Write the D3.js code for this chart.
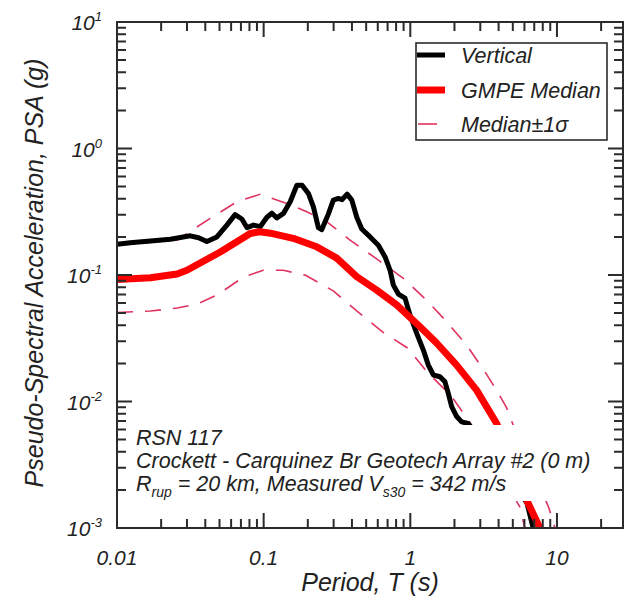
<!DOCTYPE html>
<html lang="en">
<head>
<meta charset="UTF-8">
<title>Pseudo-Spectral Acceleration - RSN 117</title>
<script src="https://d3js.org/d3.v7.min.js"></script>
<style>
    body { margin: 0; background: #fff; }
    text { font-family: Arial, "Liberation Sans", sans-serif; font-style: italic; fill: #222; }
</style>
</head>
<body>
<div id="chart"></div>
<script>
    // recorded vertical spectrum (period s, PSA g)
    const vertPeriod = [0.01, 0.0123, 0.0169, 0.0231, 0.0316, 0.036, 0.041, 0.048, 0.0561, 0.0639, 0.071, 0.0769,
        0.0853, 0.0947, 0.1052, 0.1138, 0.123, 0.1365, 0.1517, 0.1684, 0.1829, 0.2019, 0.2184, 0.2361, 0.2489,
        0.276, 0.2986, 0.3233, 0.3427, 0.3707, 0.3991, 0.4315, 0.4667, 0.5318, 0.6057, 0.673, 0.7278, 0.7664,
        0.8289, 0.9204, 0.9953, 1.106, 1.227, 1.327, 1.435, 1.594, 1.723, 1.815, 1.915, 2.071, 2.239, 2.484,
        6.24, 6.88, 7.3];
    const vertPSA = [0.175, 0.18, 0.186, 0.192, 0.204, 0.197, 0.184, 0.2, 0.248, 0.3, 0.277, 0.237,
        0.248, 0.241, 0.286, 0.308, 0.283, 0.307, 0.379, 0.512, 0.513, 0.441, 0.346, 0.237, 0.228,
        0.303, 0.391, 0.403, 0.394, 0.436, 0.391, 0.286, 0.231, 0.2, 0.172, 0.139, 0.109, 0.0832,
        0.0707, 0.0657, 0.0482, 0.0346, 0.0255, 0.0194, 0.0162, 0.0157, 0.0143, 0.0116, 0.0091, 0.0076, 0.0069, 0.0067,
        0.00158, 0.001, 0.0007];

    // GMPE median and +/- 1 sigma
    const medPeriod = [0.01, 0.0169, 0.0257, 0.03, 0.0506, 0.081, 0.0946, 0.111, 0.159, 0.23, 0.315, 0.431,
        0.59, 0.807, 1.164, 1.51, 2.07, 2.83, 3.88, 6.34, 7.65, 8.4];
    const medPSA = [0.092, 0.095, 0.102, 0.109, 0.152, 0.213, 0.22, 0.214, 0.195, 0.167, 0.136, 0.097,
        0.076, 0.058, 0.039, 0.029, 0.0194, 0.0123, 0.0067, 0.00158, 0.001, 0.0007];

    const upPeriod = [0.01, 0.0257, 0.03, 0.0432, 0.0657, 0.0946, 0.144, 0.197, 0.27, 0.388, 0.59, 0.896,
        1.29, 1.77, 2.42, 3.23, 3.97, 4.54, 5.01, 8.81, 9.68, 10.5];
    const upPSA = [0.172, 0.189, 0.213, 0.28, 0.379, 0.435, 0.368, 0.316, 0.263, 0.189, 0.134, 0.094,
        0.0634, 0.0427, 0.0279, 0.0172, 0.0117, 0.0089, 0.0066, 0.00144, 0.001, 0.0007];

    const loPeriod = [0.01, 0.0169, 0.0257, 0.0351, 0.048, 0.0728, 0.0993, 0.136, 0.192, 0.3, 0.431, 0.655,
        0.957, 1.31, 1.91, 2.55, 5.58, 6.04, 6.6];
    const loPSA = [0.0505, 0.0519, 0.0548, 0.0589, 0.0694, 0.0962, 0.109, 0.109, 0.0998, 0.0746, 0.052, 0.0351,
        0.0265, 0.017, 0.011, 0.0068, 0.00147, 0.001, 0.0007];

    const xMajor = [0.01, 0.1, 1, 10];
    const xLabels = ["0.01", "0.1", "1", "10"];
    const yMajor = [0.001, 0.01, 0.1, 1, 10];
    const yExponents = ["-3", "-2", "-1", "0", "1"];

    const legendNames = ["Vertical", "GMPE Median", "Median\u00b11\u03c3"];
    const noteLines = ["RSN 117", "Crockett - Carquinez Br Geotech Array #2 (0 m)"];

    const W = 632, H = 603;
    const pLeft = 117, pRight = 623, pTop = 22, pBottom = 528;
    const axisColor = "#2b2b2b";
    const sigmaColor = "#e0335f";

    const svg = d3.select("#chart").append("svg")
        .attr("width", W)
        .attr("height", H);

    const x = d3.scaleLog().domain([0.01, 28.2]).range([pLeft, pRight]);
    const y = d3.scaleLog().domain([0.001, 10]).range([pBottom, pTop]);

    svg.append("clipPath").attr("id", "plotclip")
        .append("rect")
        .attr("x", pLeft).attr("y", pTop)
        .attr("width", pRight - pLeft).attr("height", pBottom - pTop);

    const line = d3.line()
        .x(d => x(d[0]))
        .y(d => y(d[1]));

    const zip = (a, b) => a.map((v, i) => [v, b[i]]);

    const plot = svg.append("g").attr("clip-path", "url(#plotclip)");

    // sigma bands
    [zip(upPeriod, upPSA), zip(loPeriod, loPSA)].forEach(pts => {
        plot.append("path")
            .attr("d", line(pts))
            .attr("fill", "none")
            .attr("stroke", sigmaColor)
            .attr("stroke-width", 1.6)
            .attr("stroke-dasharray", "16,12");
    });

    plot.append("path")
        .attr("d", line(zip(vertPeriod, vertPSA)))
        .attr("fill", "none")
        .attr("stroke", "#000")
        .attr("stroke-width", 5)
        .attr("stroke-linejoin", "round");

    plot.append("path")
        .attr("d", line(zip(medPeriod, medPSA)))
        .attr("fill", "none")
        .attr("stroke", "#ff0000")
        .attr("stroke-width", 7)
        .attr("stroke-linejoin", "round");

    // white box behind the note text
    svg.append("rect")
        .attr("x", 127).attr("y", 425)
        .attr("width", 478).attr("height", 76)
        .attr("fill", "#fff");

    // ticks, pointing inward on all four sides
    const decadeSteps = [2, 3, 4, 5, 6, 7, 8, 9];
    const yMinor = yMajor.slice(0, -1).flatMap(m => decadeSteps.map(k => m * k));
    const xMinor = xMajor.flatMap(m => decadeSteps.map(k => m * k)).filter(v => v <= x.domain()[1]);

    let tickPath = "";
    function addYTicks(vals, len) {
        vals.forEach(v => {
            tickPath += `M${pLeft},${y(v)}h${len}M${pRight},${y(v)}h${-len}`;
        });
    }
    function addXTicks(vals, len) {
        vals.forEach(v => {
            tickPath += `M${x(v)},${pBottom}v${-len}M${x(v)},${pTop}v${len}`;
        });
    }
    addYTicks(yMajor, 15);
    addYTicks(yMinor, 9);
    addXTicks(xMajor, 15);
    addXTicks(xMinor, 9);

    svg.append("path")
        .attr("d", tickPath)
        .attr("fill", "none")
        .attr("stroke", axisColor)
        .attr("stroke-width", 2);

    svg.append("rect")
        .attr("x", pLeft).attr("y", pTop)
        .attr("width", pRight - pLeft).attr("height", pBottom - pTop)
        .attr("fill", "none")
        .attr("stroke", axisColor)
        .attr("stroke-width", 2);

    // x tick labels
    svg.selectAll(".xlab")
        .data(xMajor)
        .enter().append("text")
        .attr("class", "xlab")
        .attr("x", d => x(d))
        .attr("y", 565)
        .attr("text-anchor", "middle")
        .style("font-size", "21px")
        .text((d, i) => xLabels[i]);

    // y tick labels: 10 with superscript exponent
    const ylab = svg.selectAll(".ylab")
        .data(yMajor)
        .enter().append("text")
        .attr("class", "ylab")
        .attr("x", 102)
        .attr("y", d => y(d) + 8)
        .attr("text-anchor", "end")
        .style("font-size", "21px");
    ylab.append("tspan").text("10");
    ylab.append("tspan")
        .attr("dy", -9)
        .style("font-size", "13px")
        .text((d, i) => yExponents[i]);

    // axis titles
    svg.append("text")
        .attr("x", 370)
        .attr("y", 591)
        .attr("text-anchor", "middle")
        .style("font-size", "25px")
        .text("Period, T (s)");

    svg.append("text")
        .attr("transform", "translate(43,273) rotate(-90)")
        .attr("text-anchor", "middle")
        .style("font-size", "25px")
        .text("Pseudo-Spectral Acceleration, PSA (g)");

    // legend
    const legend = svg.append("g");
    legend.append("rect")
        .attr("x", 416).attr("y", 43)
        .attr("width", 191).attr("height", 97)
        .attr("fill", "#fff")
        .attr("stroke", axisColor)
        .attr("stroke-width", 1.6);
    const legendY = [55, 90, 124];
    legend.append("line")
        .attr("x1", 417).attr("x2", 445).attr("y1", legendY[0]).attr("y2", legendY[0])
        .attr("stroke", "#000").attr("stroke-width", 5);
    legend.append("line")
        .attr("x1", 417).attr("x2", 445).attr("y1", legendY[1]).attr("y2", legendY[1])
        .attr("stroke", "#ff0000").attr("stroke-width", 7);
    legend.append("line")
        .attr("x1", 418).attr("x2", 437).attr("y1", legendY[2]).attr("y2", legendY[2])
        .attr("stroke", sigmaColor).attr("stroke-width", 1.6);
    legend.selectAll(".lt")
        .data(legendNames)
        .enter().append("text")
        .attr("class", "lt")
        .attr("x", 461)
        .attr("y", (d, i) => legendY[i] + 8)
        .style("font-size", "21.5px")
        .text(d => d);

    // note text
    const note = svg.append("g").style("font-size", "21.5px");
    note.append("text").attr("x", 136).attr("y", 445).text(noteLines[0]);
    note.append("text").attr("x", 136).attr("y", 468).text(noteLines[1]);
    const t3 = note.append("text").attr("x", 136).attr("y", 491);
    t3.append("tspan").text("R");
    t3.append("tspan").attr("dy", 6).style("font-size", "14px").text("rup");
    t3.append("tspan").attr("dy", -6).text(" = 20 km, Measured V");
    t3.append("tspan").attr("dy", 6).style("font-size", "14px").text("s30");
    t3.append("tspan").attr("dy", -6).text(" = 342 m/s");
</script>
</body>
</html>
